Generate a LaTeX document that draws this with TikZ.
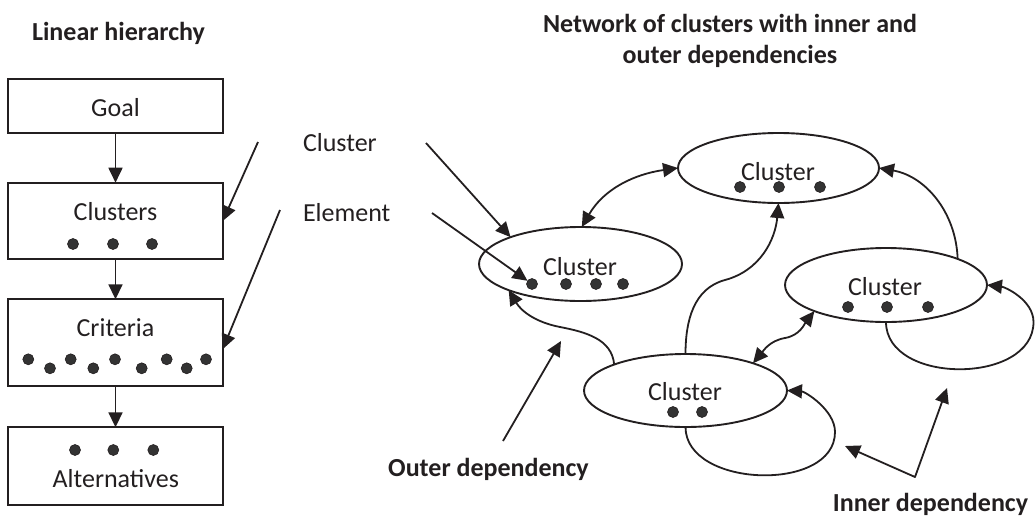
\documentclass[tikz,border=0pt]{standalone}
\usepackage{fontspec}
\setmainfont{Carlito}
\usetikzlibrary{arrows.meta,shapes.geometric}
\definecolor{ink}{HTML}{231F20}
\definecolor{dotfill}{HTML}{333333}

\begin{document}
\begin{tikzpicture}[x=1pt,y=-1pt,
  every node/.style={inner sep=0pt, outer sep=0pt, text=ink},
  lbl/.style={font=\fontsize{26}{31}\selectfont, anchor=base},
  ttl/.style={font=\fontsize{26}{31}\selectfont\bfseries, anchor=base},
  level/.style={draw=ink, line width=1.9pt, rectangle, minimum width=214.5pt},
  cluster/.style={draw=ink, line width=1.9pt, ellipse},
  elem/.style={circle, fill=dotfill, draw=ink, line width=0.6pt, minimum size=11pt},
  link/.style={draw=ink, line width=1.8pt, -{Triangle[length=15pt,width=14pt]}},
  twoway/.style={draw=ink, line width=1.8pt, line join=round,
    {Triangle[length=15pt,width=14pt]}-{Triangle[length=15pt,width=14pt]}}
]
\useasboundingbox (0,0) rectangle (1035,517);

% ---------- linear hierarchy ----------
\node[ttl] (hierTitle) at (118.5,40) {Linear hierarchy};

\node[level, minimum height=53.4pt] (goal)     at (115.5,106)    {};
\node[level, minimum height=76.6pt] (clusters) at (115.5,221)    {};
\node[level, minimum height=86.7pt] (criteria) at (115.5,342.65) {};
\node[level, minimum height=77.7pt] (alts)     at (115.5,466.15) {};

\node[lbl] (goalText)     at (115.5,116.7) {Goal};
\node[lbl] (clustersText) at (115.5,220)   {Clusters};
\node[lbl] (criteriaText) at (115.5,336.7) {Criteria};
\node[lbl] (altsText)     at (115.8,487.3) {Alternatives};

\foreach \x [count=\i] in {73,113,152}
  \node[elem] (cl\i) at (\x,244) {};
\foreach \x/\y [count=\i] in {28.3/359.3, 50/368.3, 70.7/359.3, 93.3/368.3,
    115/359.3, 141.7/368.3, 166.7/359.3, 186.7/368.3, 206/359.3}
  \node[elem] (cr\i) at (\x,\y) {};
\foreach \x [count=\i] in {75,113.3,153.3}
  \node[elem] (al\i) at (\x,450) {};

\draw[link] (goal) -- (clusters);
\draw[link] (clusters) -- (criteria);
\draw[link] (criteria) -- (alts);

% ---------- legend labels ----------
\node[lbl, anchor=base west] (clusterLabel) at (303,151.7) {Cluster};
\node[lbl, anchor=base west] (elementLabel) at (303,221.7) {Element};

\coordinate (clusterTail)      at (258,142);
\coordinate (criteriaTail)     at (280,210);
\coordinate (clusterLabelTail) at (426,143);
\coordinate (elementTail)      at (432,213);

% ---------- network of clusters ----------
\node[ttl] (netTitleA) at (730,32) {Network of clusters with inner and};
\node[ttl] (netTitleB) at (730,63) {outer dependencies};

\node[cluster, minimum width=203pt, minimum height=74pt] (A) at (580.5,264)   {};
\node[cluster, minimum width=201pt, minimum height=70pt] (B) at (778.5,168)   {};
\node[cluster, minimum width=202pt, minimum height=74pt] (C) at (886,285)     {};
\node[cluster, minimum width=203pt, minimum height=73pt] (D) at (685.5,390.5) {};

\node[lbl] (AText) at (580,275)   {Cluster};
\node[lbl] (BText) at (778,180)   {Cluster};
\node[lbl] (CText) at (885,295)   {Cluster};
\node[lbl] (DText) at (685,400.7) {Cluster};

\foreach \x [count=\i] in {532,566,596,623}
  \node[elem] (eA\i) at (\x,284) {};
\foreach \x [count=\i] in {740,779,820}
  \node[elem] (eB\i) at (\x,187) {};
\foreach \x [count=\i] in {848,887,928}
  \node[elem] (eC\i) at (\x,307) {};
\foreach \x [count=\i] in {673,702}
  \node[elem] (eD\i) at (\x,412) {};

\coordinate (dbBend) at (725,280);
\coordinate (daBend) at (560,327);
\coordinate (cdBend) at (785,338);
\coordinate (dLoopR) at (835,432);
\coordinate (cLoopR) at (1033.5,322);

\node[ttl] (outerLabel) at (488.5,476.7) {Outer dependency};
\node[ttl] (innerLabel) at (930.5,511.7) {Inner dependency};

\coordinate (outerTail)  at (503,441);
\coordinate (outerHead)  at (561,341);
\coordinate (innerFork)  at (915,477);
\coordinate (innerHeadD) at (845,446);
\coordinate (innerHeadC) at (947,388);

% pointers from the legend labels
\draw[link] (clusterTail) -- (clusters.east);
\draw[link] (criteriaTail) -- ([yshift=-6.5pt]criteria.east);
\draw[link] (clusterLabelTail) -- (A.159);
\draw[link] (elementTail) -- (eA1);

% outer dependencies
\draw[twoway] (A.88) to[out=60,in=188] (B.west);
\draw[link] (D.north) to[out=90,in=195] (dbBend) to[out=15,in=-95] (B.south);
\draw[link] (D.160) to[out=95,in=-11] (daBend) to[out=169,in=-59] (A.200);
\draw[twoway] (D.22) to[out=50,in=190] (cdBend) to[out=10,in=232] (C.200);
\draw[link] (C.20) to[out=92,in=-10] (B.east);

% inner dependencies (loops)
\draw[link] (D.south) .. controls +(0,61) and +(0,61) .. (dLoopR)
  .. controls +(0,-22) and +(18,1) .. (D.east);
\draw[link] (C.south) .. controls +(0,63) and +(0,63) .. (cLoopR)
  .. controls +(0,-22) and +(18,2) .. (C.east);

% annotation arrows
\draw[link] (outerTail) -- (outerHead);
\draw[twoway] (innerHeadD) -- (innerFork) -- (innerHeadC);
\end{tikzpicture}
\end{document}
